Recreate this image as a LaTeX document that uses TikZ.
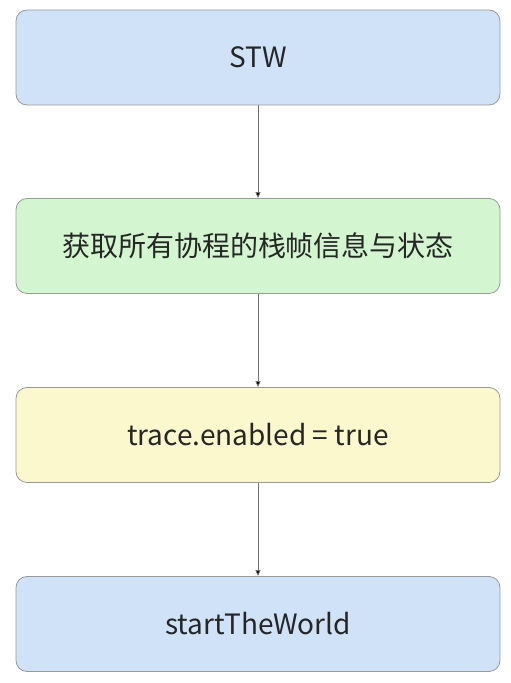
\documentclass[tikz,border=0pt]{standalone}
\usepackage{fontspec}
\setmainfont{Noto Sans CJK SC}
\usetikzlibrary{arrows.meta}
\definecolor{stwblue}{HTML}{CFE2F7}
\definecolor{getgreen}{HTML}{D3F5CF}
\definecolor{traceyellow}{HTML}{FBF8CE}
\definecolor{boxline}{HTML}{9A9A9A}
\tikzset{
  stepbox/.style={draw=boxline,line width=0.8pt,rounded corners=11pt,
    minimum width=484pt,minimum height=95pt,inner sep=0pt,
    font=\fontsize{28}{32}\selectfont,text=black!85},
  flow/.style={draw=black!55,line width=0.7pt,-{Triangle[length=6pt,width=5pt,fill=black]}}
}
\begin{document}
\begin{tikzpicture}[x=1pt,y=1pt]
\useasboundingbox (0,0) rectangle (511,683);
\node[stepbox,fill=stwblue] (stw) at (258,625.5) {STW}; %stop the world
\node[stepbox,fill=getgreen] (stack) at (258,437) {获取所有协程的栈帧信息与状态}; %goroutine stacks
\node[stepbox,fill=traceyellow] (trace) at (258,248) {trace.enabled = true}; %enable trace
\node[stepbox,fill=stwblue] (start) at (258,59) {startTheWorld}; %restart

\draw[flow] (stw) -- (stack);
\draw[flow] (stack) -- (trace);
\draw[flow] (trace) -- (start);
\end{tikzpicture}
\end{document}
